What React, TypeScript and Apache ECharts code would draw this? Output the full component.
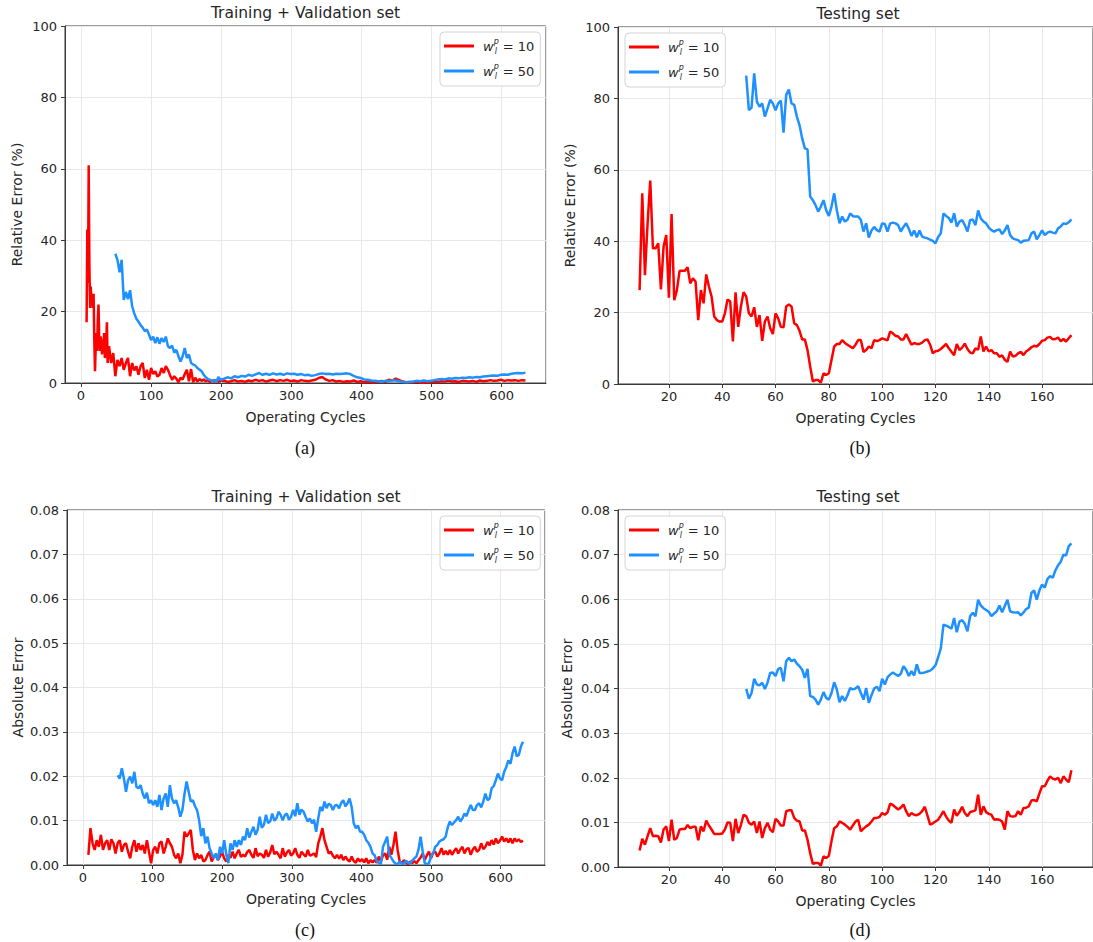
import React, { useEffect, useRef } from "react";
import * as echarts from "echarts";

// ---------- helper for evenly spaced cycle numbers ----------
const seq = (start: number, end: number, step: number): number[] => {
  const out: number[] = [];
  for (let v = start; v <= end; v += step) out.push(v);
  return out;
};

// ---------- x (operating cycles) ----------
const trainRelRedCycles: number[] = [...seq(8, 38, 1), ...seq(40, 199, 3), ...seq(204, 634, 5)];
const trainRelBlueCycles: number[] = [...seq(49, 199, 3), ...seq(204, 634, 5)];
const trainAbsRedCycles: number[] = seq(8, 632, 3);
const trainAbsBlueCycles: number[] = seq(50, 632, 3);
const testRedCycles: number[] = seq(9, 171, 1);
const testBlueCycles: number[] = seq(49, 171, 1);

// ---------- (a) training + validation, relative error (%) ----------
const trainRelRed: number[] = [
  17, 43, 28, 61, 33, 21, 27, 22, 25, 21, 25, 12, 3.3, 10, 14, 9, 18, 22, 12, 9, 13, 12, 8, 11.7, 9, 14, 7, 8.4, 12, 17, 5.6,
  10.3, 5.6, 8.4, 1.9, 6.5, 4.7, 7, 3.7, 5.6, 7,
  1.9, 5.6, 3.5, 4.7, 2.3, 4.7, 5.6, 1.4, 3.7, 0.9,
  4.2, 2.5, 3.3, 1.8, 2.3, 4.2, 2.8, 4.7, 3.7, 2.2,
  0.9, 1.9, 1.2, 0.2, 1.5, 1, 2.5, 3.7, 0.5, 3.9,
  0.2, 1.5, 0.4, 1.1, 0.6, 1, 0.5, 0.8, 0.3, 0.7,
  0.4, 0.8, 0.3, 0.6,
  0.7, 0.3, 0.5, 0.8, 0.4, 0.6, 0.3,
  0.7, 0.5, 0.9, 0.6, 0.8, 0.4, 0.7, 0.9, 0.5, 0.8,
  0.6, 0.9, 0.5, 0.7, 0.4, 0.8, 0.6, 0.5, 0.7, 0.9,
  1.4, 1.7, 1.0, 0.6, 0.8, 0.4, 0.6, 0.3, 0.5, 0.4,
  0.7, 0.3, 0.5, 0.2, 0.4, 0.3, 0.2, 0.4, 0.6, 0.3,
  0.9, 0.7, 1.2, 0.8, 0.4, 0.2, 0.3, 0.2, 0.4, 0.2,
  0.1, 0.3, 0.2, 0.4, 0.3, 0.5, 0.4, 0.6, 0.4, 0.5,
  0.3, 0.6, 0.5, 0.4, 0.6, 0.3, 0.7, 0.5, 0.6, 0.8,
  0.6, 0.7, 0.9, 0.6, 0.8, 0.7, 0.8, 0.6, 0.8, 0.7,
];
const trainRelBlue: number[] = [
  36.2, 34.5, 31, 34.5, 23.3, 25.5, 23.5, 26, 21.5, 19.5,
  18, 17.2, 16.2, 15.5, 14.5, 15, 13.6, 12, 13, 11.2,
  12.8, 11, 12.6, 11.5, 13, 10.3, 9.8, 10.5, 8.5, 9.3,
  7.5, 6, 7.5, 9.8, 7, 8, 5.6, 5.2, 4.9, 4.2,
  3.8, 3.3, 2.3, 1.6, 1.1, 0.9, 0.6, 0.9, 0.2, 1.7,
  0.9,
  1.2, 1.6, 1.3, 1.9, 1.6, 2.0, 1.8, 2.3, 2.0,
  2.4, 2.8, 2.3, 2.6, 2.3, 2.7, 2.4, 2.6, 2.3, 2.7,
  2.5, 2.6, 2.3, 2.5, 2.2, 2.3, 2.0, 2.2, 2.5, 2.7,
  2.5, 2.6, 2.4, 2.6, 2.5, 2.6, 2.7, 2.5, 2.0, 1.6,
  1.4, 1.0, 0.9, 0.7, 0.6, 0.5, 0.4, 0.6, 0.5, 0.8,
  0.7, 0.5, 0.3, 0.2, 0.3, 0.4, 0.6, 0.5, 0.7, 0.5,
  0.6, 0.8, 1.0, 1.1, 1.0, 1.3, 1.2, 1.4, 1.3, 1.5,
  1.4, 1.6, 1.5, 1.7, 1.6, 1.8, 1.9, 2.0, 2.1, 2.0,
  2.3, 2.4, 2.3, 2.6, 2.7, 2.8, 2.7, 2.9,
];

// ---------- (b) testing, relative error (%) ----------
const testRelRed: number[] = [
  26.3, 53.4, 30.5, 45, 57, 38, 38, 39.4, 26.5, 38.5,
  41.7, 24.2, 47.6, 23.5, 26.3, 31.7, 31.7, 31.7, 32.7, 28.2,
  29.6, 28.7, 17.9, 26.3, 22.6, 30.7, 27.3, 24.5, 18.9, 17.9,
  17.5, 17.5, 19.8, 23.7, 23.1, 11.9, 25.7, 16, 21.7, 25.7,
  24.5, 19.8, 18.9, 21.5, 16, 19.3, 12.1, 17.5, 18.9, 15.6,
  14, 19.8, 18.4, 16, 15.9, 21.7, 22.3, 21.7, 17, 16.5,
  14.9, 12.5, 12.5, 9.5, 4.9, 0.7, 1.1, 1.1, 0.4, 3,
  2.5, 3, 6.7, 10.5, 11.2, 11.2, 12.3, 11.5, 11, 10.5,
  10, 11, 12.3, 12.3, 9, 9.5, 10.5, 10, 12.3, 12,
  12.3, 12.8, 12.5, 12.2, 14.7, 14.2, 13.5, 13.3, 12.5, 12.5,
  14, 12.5, 11, 11.5, 11.2, 11.2, 11.6, 12.3, 12.5, 11,
  8.6, 9.2, 9.3, 9.8, 10.5, 11.2, 10, 9, 8.1, 11.2,
  9.5, 10.2, 11.3, 9.8, 8.8, 8.6, 10, 9.6, 13.3, 9.1,
  10.5, 9.1, 9.5, 8.6, 8.6, 7.6, 8, 6.8, 6.2, 9.1,
  7.7, 7.9, 8.6, 9, 8.1, 9.1, 9.6, 10.3, 10.7, 10.5,
  11.2, 12.1, 12.3, 13, 13.2, 12.5, 12.6, 13, 12, 12.6,
  11.9, 12.8, 13.7,
];
const testRelBlue: number[] = [
  86.4, 76.7, 77.4, 87, 79.1, 77.7, 78.6, 74.9, 77.2, 79.6,
  78.6, 76.7, 78.6, 79.4, 70.4, 81, 82.5, 78.6, 78.2, 74.9,
  72.5, 68.8, 66, 65.7, 52.5, 51.5, 50.1, 48.3, 49.7, 51.5,
  48.7, 47.1, 49.7, 53.4, 48.7, 45, 46.9, 45.5, 46, 47.8,
  47, 46.9, 46.9, 46, 42.7, 45, 41, 43, 44, 43.1,
  42.7, 45, 44.8, 42.7, 45, 45.2, 45, 44.5, 42.7, 44,
  45, 43.5, 41.5, 43, 41.1, 43, 41.3, 41, 40.8, 40.4,
  40.1, 39.4, 41.2, 42.2, 47.8, 47.1, 46.5, 45.2, 47.8, 44.1,
  45.5, 45.9, 44.5, 42.7, 45.9, 46.1, 44.5, 48.6, 46.4, 45.5,
  45, 43.8, 43.1, 42.7, 43.1, 43.3, 42, 43, 44.5, 41.7,
  40.8, 40.5, 40.3, 39.6, 40.1, 40.2, 40.3, 42.2, 42.7, 40.5,
  41.7, 43, 41.7, 42.4, 42.7, 42.4, 42.2, 43.6, 44.1, 45,
  44.8, 45.3, 46.1,
];

// ---------- (c) training + validation, absolute error (x 0.001) ----------
const trainAbsRedMilli: number[] = [
  2.3, 8.3, 4.9, 3.4, 5.6, 4.1, 6.8, 3.4, 4.9, 5.6,
  3.4, 5.8, 4.9, 2.6, 4.9, 5.6, 3, 4.5, 4.9, 3,
  1.5, 4.1, 5.6, 3, 4.9, 3.4, 4.5, 2.6, 5.6, 3,
  0.4, 3.4, 4.1, 2.6, 4.9, 5.3, 2.6, 4.1, 6, 4.9,
  4.1, 2.3, 1.5, 2.6, 0.4, 2.3, 7.5, 6.4, 7.1, 7.9,
  3.4, 1.1, 2.6, 1.5, 2.3, 0.8, 1.1, 2.2, 3, 0.8,
  1.8, 2.3, 1.1, 2, 3, 1.5, 0.8, 2.3, 1.6, 3,
  1.5, 2.6, 3.4, 1.8, 2.3, 1.9, 2.9, 3.4, 2.3, 1.6,
  3.8, 2, 2.6, 2.3, 1.6, 3.4, 1.9, 2.8, 4.5, 2.4,
  3, 2.3, 1.5, 3.8, 1.9, 2.8, 3.4, 2.1, 2.6, 3.8,
  2.3, 1.6, 3, 2.4, 1.9, 3.4, 2.1, 2.3, 2.6, 1.8,
  4.9, 6.4, 8.3, 5.6, 4.1, 2.6, 3, 2.1, 1.5, 2.3,
  1.4, 2.3, 1.1, 1.9, 1.2, 0.8, 1.9, 0.9, 0.5, 1.5,
  0.8, 1.3, 0.6, 1.5, 0.4, 1.1, 0.6, 1.1, 0.5, 1.9,
  0.8, 2.2, 2.6, 1.2, 4.1, 2.3, 4.5, 7.5, 3.4, 0.8,
  0.4, 1.1, 0.5, 0.2, 0.8, 0.4, 0.9, 0.4, 1.1, 1.7,
  2.6, 1.1, 2.2, 3, 1.5, 2.8, 3, 1.9, 2.6, 3.8,
  2.3, 3.2, 2.3, 3.4, 2.3, 3.1, 3.8, 2.6, 3.5, 4.1,
  2.6, 3.6, 3.8, 2.3, 3.5, 4.1, 3, 3.4, 4.9, 3.6,
  4.1, 5.2, 4.4, 5.6, 4.6, 6, 4.9, 5.5, 6.4, 5.3,
  6, 5.1, 6, 4.9, 6, 5.3, 5.8, 5.2, 5.5,
];
const trainAbsBlueMilli: number[] = [
  20.2, 19.5, 21.8, 19.5, 16.5, 19.1, 19.9, 18.4, 21, 17.6,
  17.3, 18, 16.1, 15, 16.3, 13.9, 14.6, 13.5, 14.6, 13.1,
  15.8, 12.4, 15, 16.1, 13.1, 18, 15, 13.9, 14.6, 13,
  10.9, 12.4, 16, 18.8, 16.5, 14.3, 14.6, 13.3, 12.4, 10.1,
  6.5, 8.3, 4.9, 6.4, 3.8, 2.6, 1.5, 2.6, 1.1, 4.1,
  2.6, 5.6, 2.3, 0.4, 4.9, 3.4, 5.6, 4.1, 5.6, 4.5,
  6.4, 5.6, 8.3, 6.2, 7.5, 8.6, 6.8, 7.9, 10.9, 8.4,
  9, 11.3, 9.5, 9.8, 11.6, 10, 10.5, 12, 11.3, 10.1,
  11.2, 11.6, 10.2, 10.9, 12.4, 11, 13.9, 11.3, 12.5, 12,
  10.8, 9.8, 10.5, 9.4, 10.2, 7.5, 10.5, 13.1, 12.2, 14.3,
  12.8, 13.8, 13.5, 12.4, 13.4, 13.5, 12.8, 14, 14.6, 13.2,
  13.9, 15, 13.1, 9.4, 8.3, 8.9, 7.5, 7.5, 6.8, 5.6,
  5, 4.1, 2.6, 2.2, 0.8, 0.5, 0.2, 4.1, 5.2, 6.4,
  2.3, 1.6, 0.8, 0.3, 0.2, 0.8, 0.4, 0.2, 1, 0.5,
  0.4, 1, 1.5, 1.9, 3.5, 6.4, 3, 0.4, 0.2, 0.4,
  2, 2.6, 4.1, 4.5, 5.3, 5.6, 5.8, 6.4, 8.5, 9.8,
  9, 9.6, 10.1, 10.9, 9.8, 10.5, 11.6, 11, 12.4, 13.5,
  12.4, 12.4, 13.5, 13.9, 13, 14.3, 16.1, 14.6, 15, 17.3,
  17.8, 19.1, 20.6, 19.5, 19.1, 21, 22.1, 23.6, 22.8, 25.2,
  26.7, 24.5, 24.8, 26.7, 27.8,
];

// ---------- (d) testing, absolute error (x 0.001) ----------
const testAbsRedMilli: number[] = [
  3.7, 6.3, 5, 6.9, 8.7, 6.9, 7, 6.9, 5.5, 8.4,
  9.1, 5.8, 10.6, 6.1, 6.5, 8.4, 8.5, 8.5, 9.4, 8.7,
  9, 9, 6, 9.1, 8, 10.4, 9.3, 8.4, 7.4, 7.4,
  7.4, 7.5, 8.4, 10, 9.9, 5.8, 10.8, 7.6, 9.4, 11.7,
  11.4, 9.9, 9.5, 10.2, 7.6, 10.2, 6.5, 8.7, 9.9, 8.4,
  7.8, 10.8, 10.2, 9.3, 9.3, 12.5, 12.7, 12.7, 11, 10.4,
  10.2, 8.2, 8.2, 6.1, 3.1, 0.7, 0.9, 0.9, 0.3, 2.4,
  2, 2.5, 5.8, 8.7, 9.1, 10.2, 9.9, 9.5, 9, 8.4,
  9.3, 10.2, 10.6, 8, 8.6, 9.1, 9.5, 10.2, 11, 11,
  11.2, 12.1, 11.7, 12.2, 14.2, 13.9, 13.4, 12.9, 13.3, 14,
  12.5, 11.4, 12.1, 11.7, 11.6, 11.9, 12.5, 13.5, 11.5, 9.5,
  9.8, 10.2, 10.6, 11.5, 12.5, 11.3, 10.4, 9.9, 12.9, 11.5,
  12.3, 13.5, 12.1, 11.4, 12.3, 12.5, 12.7, 16.2, 11.7, 13.6,
  12.3, 11.9, 11.7, 10.6, 10.7, 10.6, 10.2, 8.4, 12.5, 11.4,
  11.3, 11.4, 12.5, 11.7, 13.2, 13.3, 13.6, 14.9, 15, 14.7,
  16.5, 18.1, 18.1, 19.3, 20.3, 19.8, 19.6, 20, 18.8, 20.3,
  19.6, 19, 21.7,
];
const testAbsBlueMilli: number[] = [
  39.9, 37.7, 39, 42.2, 40.9, 40.7, 41.3, 39.9, 41.3, 43.5,
  43.6, 42.8, 44.4, 44.6, 41.6, 46.1, 46.9, 46.1, 46.5, 45.6,
  45, 44.2, 42.4, 44.4, 38.3, 38.1, 37.5, 36.4, 37.5, 39.2,
  37.9, 37.5, 39, 41.4, 39.8, 36.9, 38.3, 37.2, 38.5, 40.1,
  39.8, 40, 40.5, 39, 37.5, 40.1, 36.8, 38.5, 40, 40.4,
  39.4, 42.2, 40.9, 42.5, 43.1, 43.6, 43.2, 42.8, 43.3, 45,
  44.2, 42.8, 43.9, 42.9, 45.4, 43.5, 43.5, 43.6, 43.8, 44,
  44.5, 45.2, 47, 49, 54.3, 54.1, 53.8, 53.4, 55.8, 52.6,
  55, 55.3, 54.5, 52.8, 56.2, 57, 56.2, 59.9, 58.6, 58,
  57.6, 57.2, 56.2, 56.8, 57.3, 58.6, 57.1, 58.5, 59.9, 57.3,
  57.1, 57, 57.1, 56.4, 57, 57.8, 58.1, 61.4, 62, 59.9,
  62, 63.3, 62.6, 64.5, 65.2, 64.8, 66.5, 67.6, 68.4, 70,
  69.8, 71.9, 72.5,
];

// ---------- labels ----------
const seriesNames = ["10", "50"];
const panelTitles = ["Training + Validation set", "Testing set", "Training + Validation set", "Testing set"];
const panelLetters = ["(a)", "(b)", "(c)", "(d)"];
const yNames = ["Relative Error (%)", "Relative Error (%)", "Absolute Error", "Absolute Error"];
const xName = "Operating Cycles";

const RED = "#ff0000";
const BLUE = "#1e90ff";
const FONT = "DejaVu Sans";
const INK = "#262626";

const pairs = (xs: number[], ys: number[], scale = 1) => ys.map((y, i) => [xs[i], y * scale]);

export default function App() {
  const ref = useRef<HTMLDivElement>(null);

  useEffect(() => {
    if (!ref.current) return;
    const chart = echarts.init(ref.current, undefined, { renderer: "svg" });

    const panels = [
      {
        grid: { left: 65, top: 26, width: 481, height: 357 },
        xMin: -22.8, xMax: 663.3, xStep: 100, yMax: 100, yStep: 20, abs: false, nameGap: 41,
        red: pairs(trainRelRedCycles, trainRelRed), blue: pairs(trainRelBlueCycles, trainRelBlue),
        legend: { left: 440, top: 32 }, titleX: 305.5,
      },
      {
        grid: { left: 618, top: 27, width: 480, height: 357 },
        xMin: 0.9, xMax: 179.1, xStep: 20, yMax: 100, yStep: 20, abs: false, nameGap: 41,
        red: pairs(testRedCycles, testRelRed), blue: pairs(testBlueCycles, testRelBlue),
        legend: { left: 625, top: 33 }, titleX: 858,
      },
      {
        grid: { left: 67, top: 510, width: 478, height: 355 },
        xMin: -22.7, xMax: 663.6, xStep: 100, yMax: 0.08, yStep: 0.01, abs: true, nameGap: 42,
        red: pairs(trainAbsRedCycles, trainAbsRedMilli, 0.001), blue: pairs(trainAbsBlueCycles, trainAbsBlueMilli, 0.001),
        legend: { left: 440, top: 516 }, titleX: 306,
      },
      {
        grid: { left: 618, top: 510, width: 480, height: 357 },
        xMin: 0.9, xMax: 179.1, xStep: 20, yMax: 0.08, yStep: 0.01, abs: true, nameGap: 44,
        red: pairs(testRedCycles, testAbsRedMilli, 0.001), blue: pairs(testBlueCycles, testAbsBlueMilli, 0.001),
        legend: { left: 625, top: 516 }, titleX: 858,
      },
    ];

    const axisLineStyle = { color: "#3a3a3a", width: 1 };

    const option: any = {
      animation: false,
      backgroundColor: "#ffffff",
      grid: panels.map((p) => ({
        ...p.grid,
        show: true,
        borderColor: "#3a3a3a",
        borderWidth: 1,
        containLabel: false,
      })),
      xAxis: panels.map((p, i) => ({
        type: "value",
        gridIndex: i,
        min: p.xMin,
        max: p.xMax,
        minInterval: p.xStep,
        maxInterval: p.xStep,
        name: xName,
        nameLocation: "middle",
        nameGap: 27,
        nameTextStyle: { fontFamily: FONT, fontSize: 14, color: INK },
        axisLine: { show: true, onZero: false, lineStyle: axisLineStyle },
        axisTick: { show: true, length: 4, lineStyle: axisLineStyle },
        axisLabel: { showMinLabel: false, showMaxLabel: false, fontFamily: FONT, fontSize: 13, color: INK, margin: 6 },
        splitLine: { show: true, lineStyle: { color: "#e8e8e8", width: 1 } },
      })),
      yAxis: panels.map((p, i) => ({
        type: "value",
        gridIndex: i,
        min: 0,
        max: p.yMax,
        interval: p.yStep,
        name: yNames[i],
        nameLocation: "middle",
        nameGap: p.nameGap,
        nameTextStyle: { fontFamily: FONT, fontSize: 14, color: INK },
        axisLine: { show: true, onZero: false, lineStyle: axisLineStyle },
        axisTick: { show: true, length: 4, lineStyle: axisLineStyle },
        axisLabel: {
          fontFamily: FONT,
          fontSize: 13,
          color: INK,
          margin: 8,
          formatter: (v: number) => (p.abs ? v.toFixed(2) : String(Math.round(v))),
        },
        splitLine: { show: true, lineStyle: { color: "#e8e8e8", width: 1 } },
      })),
      legend: panels.map((p) => ({
        left: p.legend.left,
        top: p.legend.top,
        orient: "vertical",
        data: seriesNames,
        selectedMode: false,
        icon: "rect",
        itemWidth: 30,
        itemHeight: 3,
        itemGap: 7,
        padding: [5, 6, 6, 4],
        backgroundColor: "rgba(255,255,255,0.85)",
        borderColor: "#d4d4d4",
        borderWidth: 1,
        borderRadius: 4,
        formatter: (name: string) => `{w|w}{p|p}{l|l}{t| = ${name}}`,
        textStyle: {
          color: INK,
          fontFamily: FONT,
          fontSize: 13,
          rich: {
            w: { fontFamily: FONT, fontStyle: "italic", fontSize: 13, color: INK, lineHeight: 18, padding: [0, 0, 0, 4] },
            p: { fontFamily: FONT, fontStyle: "italic", fontSize: 8, color: INK, verticalAlign: "top", width: 1 },
            l: { fontFamily: FONT, fontStyle: "italic", fontSize: 8, color: INK, verticalAlign: "bottom", width: 4 },
            t: { fontFamily: FONT, fontSize: 13, color: INK },
          },
        },
      })),
      series: panels.flatMap((p, i) => [
        {
          type: "line",
          name: seriesNames[0],
          xAxisIndex: i,
          yAxisIndex: i,
          data: p.red,
          symbol: "none",
          lineStyle: { color: RED, width: 2.5 },
          itemStyle: { color: RED },
          z: 2,
        },
        {
          type: "line",
          name: seriesNames[1],
          xAxisIndex: i,
          yAxisIndex: i,
          data: p.blue,
          symbol: "none",
          lineStyle: { color: BLUE, width: 2.5 },
          itemStyle: { color: BLUE },
          z: 3,
        },
      ]),
      graphic: [
        ...panels.map((p, i) => ({
          type: "text",
          x: p.titleX,
          y: p.grid.top - 13,
          style: {
            text: panelTitles[i],
            fontFamily: FONT,
            fontSize: 15.5,
            fill: INK,
            align: "center",
            verticalAlign: "middle",
          },
        })),
        ...panels.map((p, i) => ({
          type: "text",
          x: i % 2 === 1 ? 860 : 305,
          y: i < 2 ? 448 : 930,
          style: {
            text: panelLetters[i],
            fontFamily: "Liberation Serif",
            fontSize: 18,
            fill: "#111",
            align: "center",
            verticalAlign: "middle",
          },
        })),
      ],
    };

    chart.setOption(option);
    return () => chart.dispose();
  }, []);

  return (
    <div
      ref={ref}
      style={{ position: "absolute", left: 0, top: 0, width: 1093, height: 942, background: "#fff" }}
    />
  );
}
